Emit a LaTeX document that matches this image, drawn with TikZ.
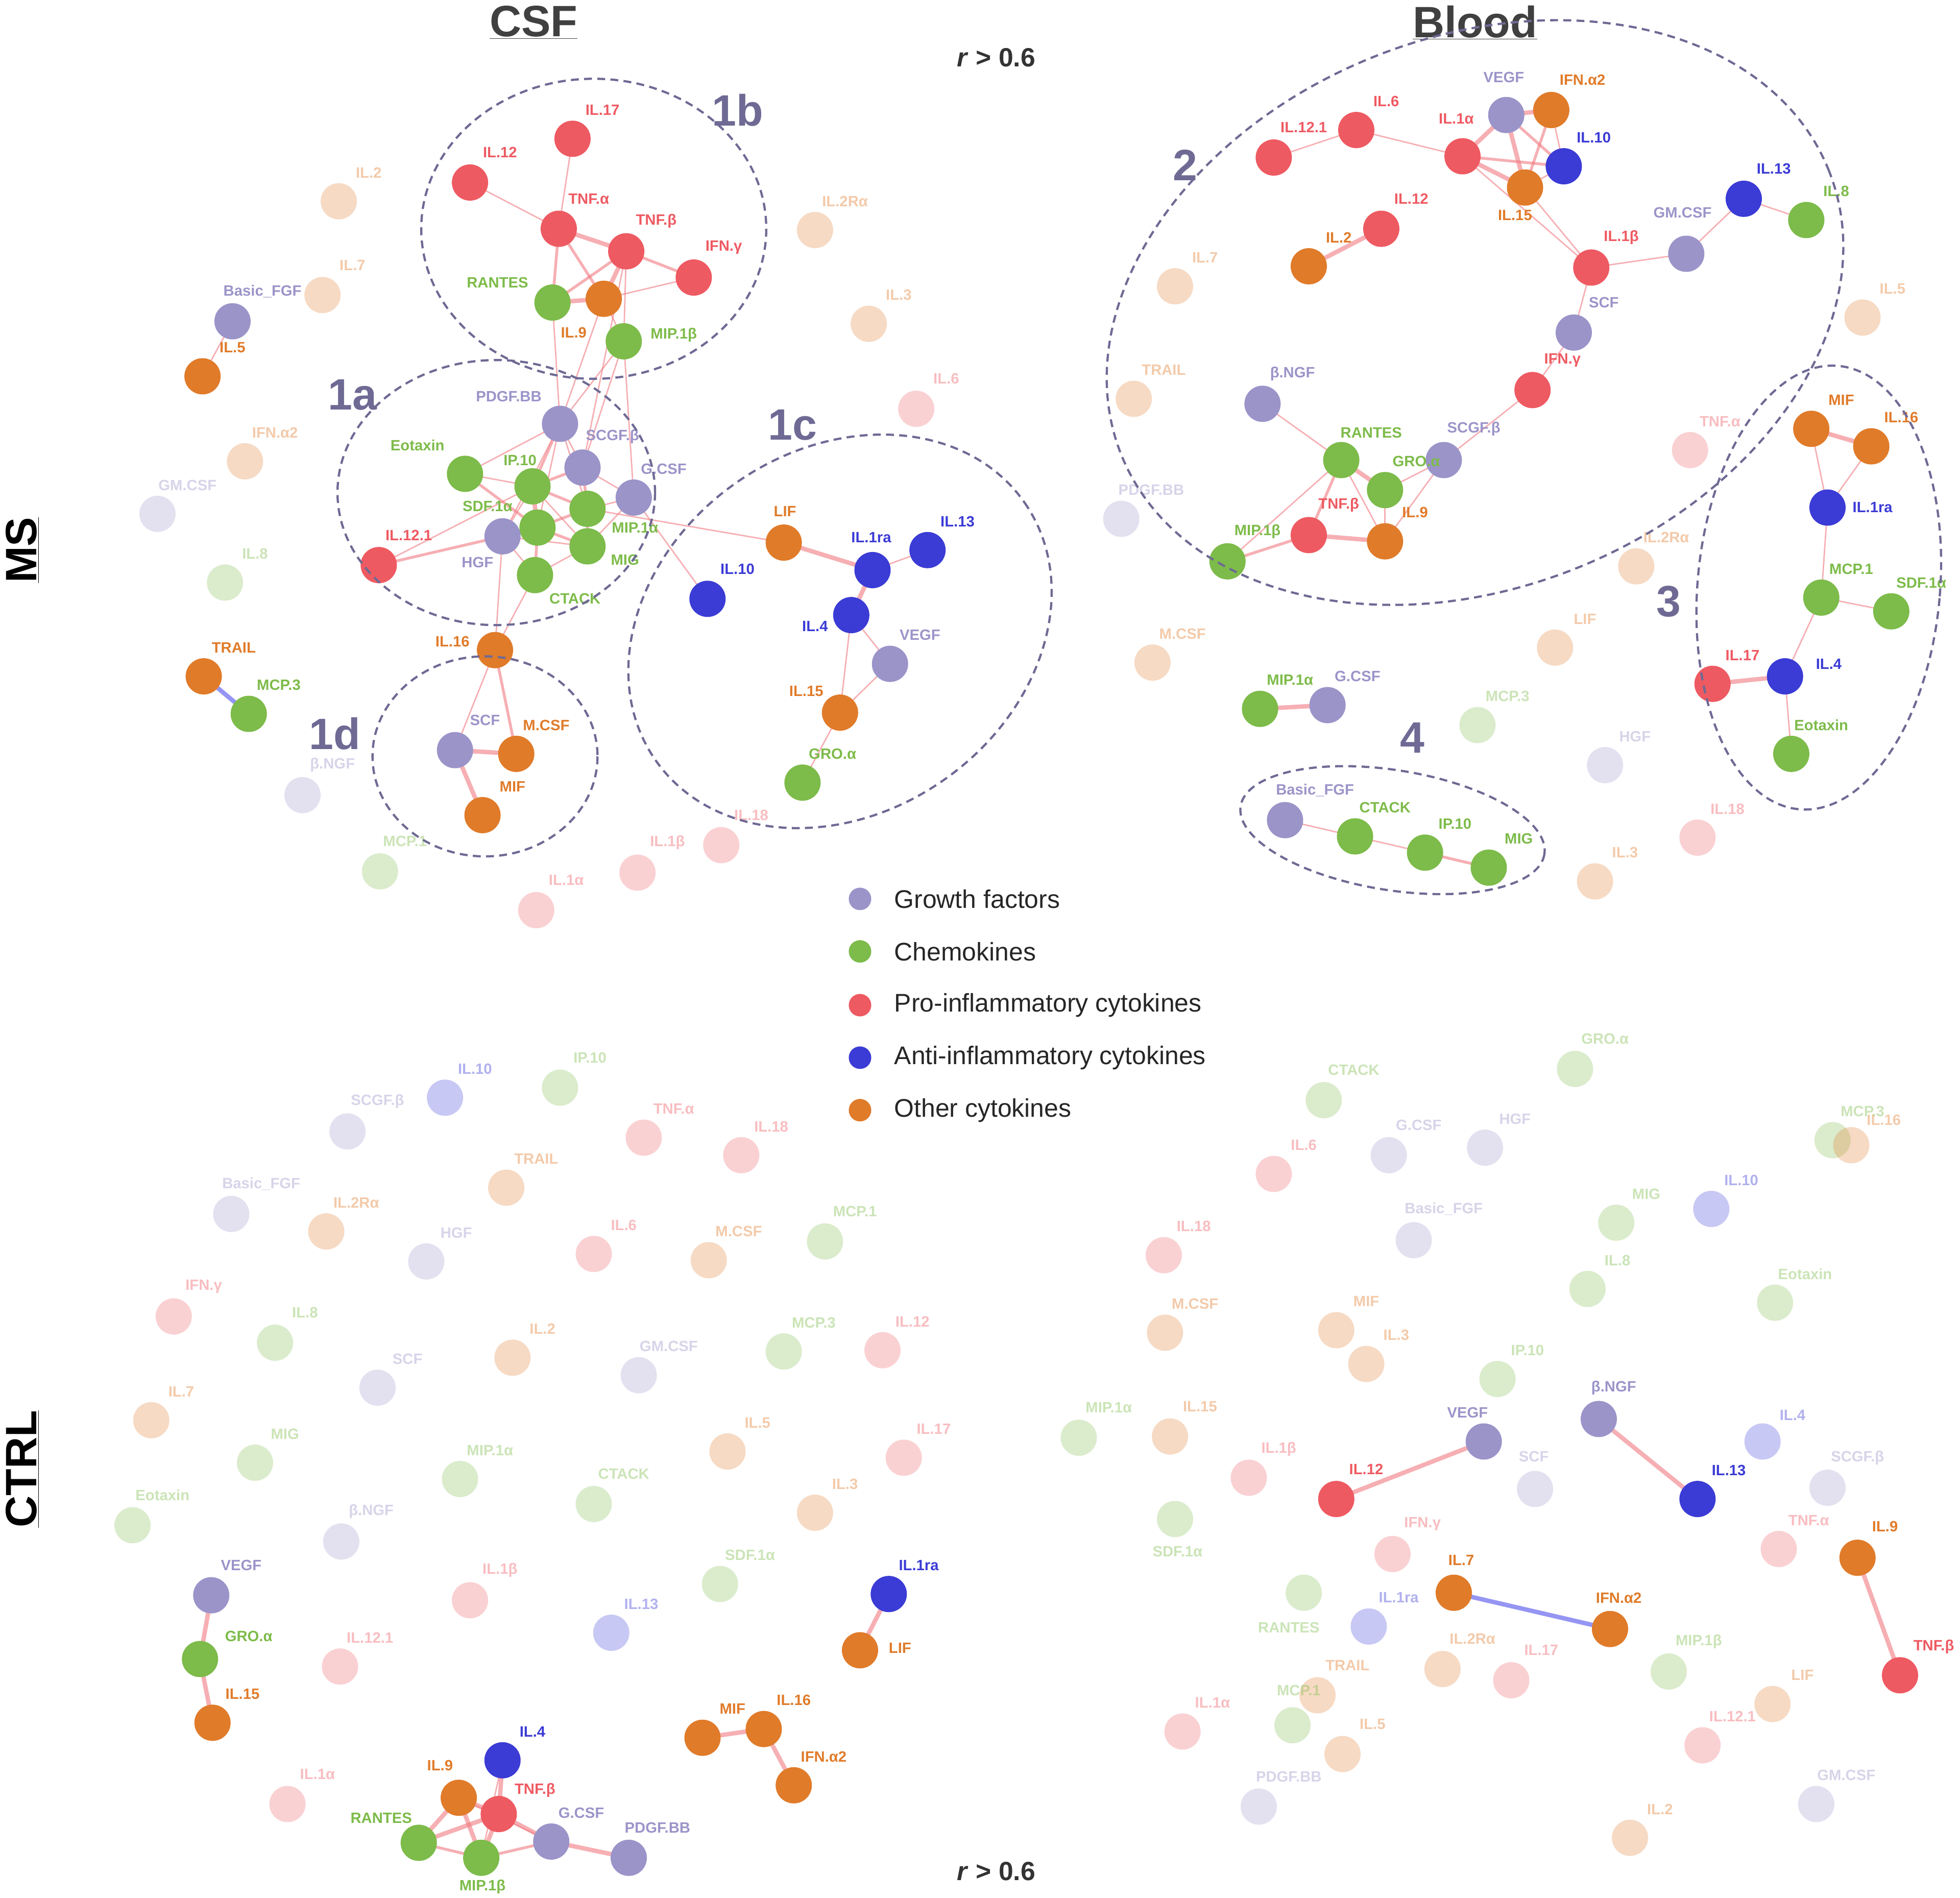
\documentclass[tikz,border=0pt]{standalone}
\usepackage{fontspec}
\setmainfont{Liberation Sans}
\usetikzlibrary{backgrounds}
\definecolor{cg}{HTML}{9B94C9}
\definecolor{cc}{HTML}{7DBB4A}
\definecolor{cp}{HTML}{EE5A62}
\definecolor{ca}{HTML}{3B3BD6}
\definecolor{co}{HTML}{E07B2A}
\definecolor{cl}{HTML}{6E6A94}
\definecolor{ep}{HTML}{F07A80}
\definecolor{en}{HTML}{7A7AF0}
\tikzset{
 dot/.style={circle,minimum size=1.45cm,inner sep=0pt},
 lab/.style={font=\fontsize{17}{19}\selectfont\bfseries,inner sep=0pt},
 e/.style={draw=ep,line width=1.6pt,opacity=0.6},
 em/.style={draw=ep,line width=3.2pt,opacity=0.6},
 et/.style={draw=ep,line width=5pt,opacity=0.6},
 en/.style={draw=en,line width=5pt,opacity=0.8},
 clu/.style={draw=cl,dashed,line width=2.5pt,dash pattern=on 9pt off 6pt},
 clab/.style={text=cl,font=\fontsize{50}{52}\selectfont\bfseries},
 ttl/.style={text=black!75,font=\fontsize{50}{52}\selectfont\bfseries}
}
\newcommand\nd[7]{\node[dot,fill=#4] (#1) at (#2,#3) {}; \node[lab,text=#4] at (#6,#7) {#5};}
\newcommand\fd[7]{\node[dot,fill=#4,opacity=0.28] (#1) at (#2,#3) {}; \node[lab,text=#4,opacity=0.4] at (#6,#7) {#5};}
\newcommand\ed[3][e]{\begin{pgfonlayer}{background}\draw[#1] (#2.center) -- (#3.center);\end{pgfonlayer}}
\begin{document}
\begin{tikzpicture}[x=0.05cm,y=-0.05cm]
\useasboundingbox (0,0) rectangle (1568,1518);
% titles
\node[ttl] (t1) at (427,18) {\underline{CSF}};
\node[ttl] (t2) at (1180,18) {\underline{Blood}};
\node[text=black!80,font=\fontsize{30}{32}\selectfont\bfseries] (r1) at (797,46) {\textit{r} > 0.6};
\node[text=black!80,font=\fontsize{30}{32}\selectfont\bfseries] (r2) at (797,1497) {\textit{r} > 0.6};
\node[ttl,text=black,rotate=90] (ms) at (18,440) {\underline{MS}};
\node[ttl,text=black,rotate=90] (ctrl) at (18,1175) {\underline{CTRL}};
% ===== MS CSF
\fd{aIL2}{271}{161}{co}{IL.2}{295}{138}
\fd{aIL7}{258}{236}{co}{IL.7}{282}{212}
\nd{aBF}{186}{257}{cg}{Basic\_FGF}{210}{233}
\nd{aIL5}{162}{301}{co}{IL.5}{186}{278}
\fd{aIFNa}{196}{369}{co}{IFN.α2}{220}{346}
\fd{aGM}{126}{411}{cg}{GM.CSF}{150}{388}
\fd{aIL8}{180}{466}{cc}{IL.8}{204}{443}
\nd{aTR}{163}{541}{co}{TRAIL}{187}{518}
\nd{aMCP3}{199}{571}{cc}{MCP.3}{223}{548}
\fd{aNGF}{242}{636}{cg}{β.NGF}{266}{612}
\fd{aMCP1}{304}{697}{cc}{MCP.1}{324}{673}
\fd{aIL1a}{429}{728}{cp}{IL.1α}{453}{704}
\fd{aIL1b}{510}{698}{cp}{IL.1β}{534}{674}
\fd{aIL18}{577}{676}{cp}{IL.18}{601}{652}
\fd{aIL6}{733}{327}{cp}{IL.6}{757}{303}
\fd{aIL3}{695}{259}{co}{IL.3}{719}{236}
\fd{aIL2R}{652}{184}{co}{IL.2Rα}{676}{161}
\nd{aIL17}{458}{111}{cp}{IL.17}{482}{88}
\nd{aIL12}{376}{146}{cp}{IL.12}{400}{122}
\nd{aTNFa}{447}{183}{cp}{TNF.α}{471}{159}
\nd{aTNFb}{501}{201}{cp}{TNF.β}{525}{177}
\nd{aIFNg}{555}{222}{cp}{IFN.γ}{579}{198}
\nd{aRAN}{442}{242}{cc}{RANTES}{398}{226}
\nd{aIL9}{483}{239}{co}{IL.9}{459}{266}
\nd{aMIP1b}{499}{273}{cc}{MIP.1β}{539}{268}
\nd{aPDGF}{448}{339}{cg}{PDGF.BB}{407}{317}
\nd{aEot}{372}{379}{cc}{Eotaxin}{334}{356}
\nd{aSCGF}{466}{374}{cg}{SCGF.β}{490}{349}
\nd{aIP10}{426}{389}{cc}{IP.10}{416}{368}
\nd{aGCSF}{507}{398}{cg}{G.CSF}{531}{375}
\nd{aSDF}{430}{422}{cc}{SDF.1α}{390}{405}
\nd{aMIP1a}{470}{407}{cc}{MIP.1α}{508}{422}
\nd{aMIG}{470}{437}{cc}{MIG}{500}{448}
\nd{aHGF}{402}{429}{cg}{HGF}{382}{450}
\nd{aCT}{428}{460}{cc}{CTACK}{460}{479}
\nd{aIL121}{303}{452}{cp}{IL.12.1}{327}{428}
\nd{aIL16}{396}{520}{co}{IL.16}{362}{513}
\nd{aSCF}{364}{600}{cg}{SCF}{388}{576}
\nd{aMCSF}{413}{603}{co}{M.CSF}{437}{580}
\nd{aMIF}{386}{652}{co}{MIF}{410}{629}
\nd{aLIF}{627}{434}{co}{LIF}{628}{409}
\nd{aIL1ra}{698}{456}{ca}{IL.1ra}{697}{430}
\nd{aIL13}{742}{440}{ca}{IL.13}{766}{417}
\nd{aIL10}{566}{479}{ca}{IL.10}{590}{455}
\nd{aIL4}{681}{492}{ca}{IL.4}{652}{501}
\nd{aVEGF}{712}{531}{cg}{VEGF}{736}{508}
\nd{aIL15}{672}{570}{co}{IL.15}{645}{553}
\nd{aGRO}{642}{626}{cc}{GRO.α}{666}{603}
\ed[en]{aTR}{aMCP3}
\ed{aBF}{aIL5}
\ed{aIL12}{aTNFa}\ed{aIL17}{aTNFa}\ed[et]{aTNFa}{aTNFb}\ed[em]{aTNFa}{aRAN}\ed[em]{aTNFa}{aIL9}
\ed[et]{aTNFb}{aIL9}\ed[em]{aTNFb}{aIFNg}\ed[em]{aTNFb}{aRAN}\ed[et]{aRAN}{aIL9}\ed{aIL9}{aMIP1b}
\ed{aTNFb}{aMIP1b}\ed{aIFNg}{aIL9}\ed{aMIP1b}{aPDGF}\ed{aIL9}{aPDGF}\ed{aTNFb}{aSCGF}\ed{aRAN}{aPDGF}
\ed{aPDGF}{aEot}\ed[em]{aPDGF}{aIP10}\ed{aPDGF}{aSCGF}\ed{aPDGF}{aSDF}\ed{aPDGF}{aMIP1a}\ed{aPDGF}{aHGF}
\ed{aEot}{aIP10}\ed[em]{aEot}{aSDF}\ed[et]{aIP10}{aSDF}\ed[em]{aIP10}{aSCGF}\ed[em]{aIP10}{aMIP1a}\ed{aIP10}{aHGF}
\ed[et]{aSDF}{aHGF}\ed[em]{aSDF}{aMIG}\ed[em]{aSDF}{aCT}\ed[em]{aSDF}{aMIP1a}\ed[em]{aSCGF}{aMIP1a}\ed{aSCGF}{aGCSF}
\ed{aMIP1a}{aGCSF}\ed[em]{aMIP1a}{aMIG}\ed{aMIG}{aGCSF}\ed[em]{aHGF}{aIL121}\ed{aIP10}{aIL121}\ed{aHGF}{aCT}
\ed{aCT}{aMIG}\ed{aHGF}{aMIG}\ed{aIP10}{aMIG}\ed{aMIP1a}{aLIF}\ed{aGCSF}{aIL10}\ed{aGCSF}{aMIP1b}\ed{aSCGF}{aMIP1b}
\ed{aHGF}{aIL16}\ed{aCT}{aIL16}\ed{aIL16}{aSCF}\ed[em]{aIL16}{aMCSF}\ed[et]{aSCF}{aMIF}\ed[et]{aSCF}{aMCSF}
\ed[et]{aLIF}{aIL1ra}\ed{aIL1ra}{aIL13}\ed[et]{aIL1ra}{aIL4}\ed{aIL4}{aVEGF}\ed{aIL4}{aIL15}\ed{aIL15}{aGRO}\ed{aVEGF}{aIL15}
\draw[clu] (475,183) ellipse[x radius=138,y radius=120];
\draw[clu] (397,394) ellipse[x radius=127,y radius=106];
\draw[clu,rotate around={35:(672,505)}] (672,505) ellipse[x radius=180,y radius=145];
\draw[clu] (388,605) ellipse[x radius=90,y radius=80];
\node[clab] (l1b) at (590,88) {1b};
\node[clab] (l1a) at (282,316) {1a};
\node[clab] (l1c) at (634,340) {1c};
\node[clab] (l1d) at (268,587) {1d};
% ===== MS Blood
\nd{bVEGF}{1205}{92}{cg}{VEGF}{1203}{62}
\nd{bIFNa}{1241}{88}{co}{IFN.α2}{1266}{64}
\nd{bIL6}{1085}{104}{cp}{IL.6}{1109}{81}
\nd{bIL121}{1019}{126}{cp}{IL.12.1}{1043}{102}
\nd{bIL1a}{1170}{125}{cp}{IL.1α}{1165}{95}
\nd{bIL10}{1251}{133}{ca}{IL.10}{1275}{110}
\nd{bIL15}{1220}{150}{co}{IL.15}{1212}{172}
\nd{bIL12}{1105}{183}{cp}{IL.12}{1129}{159}
\nd{bIL2}{1047}{213}{co}{IL.2}{1071}{190}
\nd{bIL13}{1395}{159}{ca}{IL.13}{1419}{135}
\nd{bIL8}{1445}{176}{cc}{IL.8}{1469}{153}
\nd{bGM}{1349}{203}{cg}{GM.CSF}{1346}{170}
\nd{bIL1b}{1273}{214}{cp}{IL.1β}{1297}{190}
\nd{bSCF}{1259}{266}{cg}{SCF}{1283}{242}
\nd{bIFNg}{1226}{312}{cp}{IFN.γ}{1250}{288}
\nd{bNGF}{1010}{323}{cg}{β.NGF}{1034}{299}
\nd{bRAN}{1073}{368}{cc}{RANTES}{1097}{346}
\nd{bSCGF}{1155}{368}{cg}{SCGF.β}{1179}{343}
\nd{bGRO}{1108}{392}{cc}{GRO.α}{1133}{369}
\nd{bTNFb}{1047}{428}{cp}{TNF.β}{1071}{404}
\nd{bIL9}{1108}{433}{co}{IL.9}{1132}{410}
\nd{bMIP1b}{982}{449}{cc}{MIP.1β}{1006}{425}
\fd{bIL7}{940}{229}{co}{IL.7}{964}{206}
\fd{bTR}{907}{319}{co}{TRAIL}{931}{296}
\fd{bPDGF}{897}{415}{cg}{PDGF.BB}{921}{392}
\fd{bMCSF}{922}{530}{co}{M.CSF}{946}{507}
\fd{bMCP3}{1182}{580}{cc}{MCP.3}{1206}{557}
\fd{bLIF}{1244}{518}{co}{LIF}{1268}{495}
\fd{bIL2R}{1309}{453}{co}{IL.2Rα}{1333}{430}
\fd{bTNFa}{1352}{360}{cp}{TNF.α}{1376}{337}
\fd{bIL5}{1490}{254}{co}{IL.5}{1514}{231}
\fd{bHGF}{1284}{612}{cg}{HGF}{1308}{589}
\fd{bIL18}{1358}{670}{cp}{IL.18}{1382}{647}
\fd{bIL3}{1276}{705}{co}{IL.3}{1300}{682}
\nd{bMIP1a}{1008}{567}{cc}{MIP.1α}{1032}{544}
\nd{bGCSF}{1062}{564}{cg}{G.CSF}{1086}{541}
\nd{bMIF}{1449}{343}{co}{MIF}{1473}{320}
\nd{bIL16}{1497}{357}{co}{IL.16}{1521}{334}
\nd{bIL1ra}{1462}{406}{ca}{IL.1ra}{1498}{406}
\nd{bMCP1}{1457}{478}{cc}{MCP.1}{1481}{455}
\nd{bSDF}{1513}{489}{cc}{SDF.1α}{1537}{466}
\nd{bIL17}{1370}{547}{cp}{IL.17}{1394}{524}
\nd{bIL4}{1428}{541}{ca}{IL.4}{1463}{531}
\nd{bEot}{1433}{603}{cc}{Eotaxin}{1457}{580}
\nd{bBF}{1028}{656}{cg}{Basic\_FGF}{1052}{632}
\nd{bCT}{1084}{669}{cc}{CTACK}{1108}{646}
\nd{bIP10}{1140}{682}{cc}{IP.10}{1164}{659}
\nd{bMIG}{1191}{694}{cc}{MIG}{1215}{671}
\ed{bIL121}{bIL6}\ed{bIL6}{bIL1a}\ed[et]{bIL1a}{bVEGF}\ed[em]{bIL1a}{bIL10}\ed[et]{bIL1a}{bIL15}\ed[et]{bVEGF}{bIFNa}
\ed[et]{bVEGF}{bIL15}\ed[em]{bIFNa}{bIL15}\ed{bIFNa}{bIL10}\ed{bIL10}{bIL15}\ed[em]{bVEGF}{bIL10}\ed[et]{bIL12}{bIL2}
\ed{bIL15}{bIL1b}\ed{bIL1a}{bIL1b}\ed{bIL1b}{bGM}\ed{bGM}{bIL13}\ed{bIL13}{bIL8}\ed{bIL1b}{bSCF}\ed{bSCF}{bIFNg}
\ed{bIFNg}{bSCGF}\ed{bNGF}{bRAN}\ed[et]{bRAN}{bGRO}\ed[em]{bRAN}{bTNFb}\ed{bRAN}{bIL9}\ed{bGRO}{bIL9}
\ed[et]{bTNFb}{bIL9}\ed[em]{bTNFb}{bMIP1b}\ed{bSCGF}{bGRO}\ed{bSCGF}{bIL9}\ed{bMIP1b}{bRAN}\ed[et]{bMIP1a}{bGCSF}
\ed[et]{bMIF}{bIL16}\ed{bMIF}{bIL1ra}\ed{bIL16}{bIL1ra}\ed{bIL1ra}{bMCP1}\ed{bMCP1}{bSDF}\ed{bMCP1}{bIL4}\ed[et]{bIL17}{bIL4}\ed{bIL4}{bEot}
\ed{bBF}{bCT}\ed{bCT}{bIP10}\ed[em]{bIP10}{bMIG}
\draw[clu,rotate around={22:(1180,250)}] (1180,250) ellipse[x radius=305,y radius=220];
\draw[clu,rotate around={-5:(1455,470)}] (1455,470) ellipse[x radius=97,y radius=178];
\draw[clu,rotate around={-9:(1114,664)}] (1114,664) ellipse[x radius=123,y radius=48];
\node[clab] (l2) at (948,132) {2};
\node[clab] (l3) at (1335,481) {3};
\node[clab] (l4) at (1130,590) {4};
% legend
\foreach \yy/\cc/\tt [count=\i] in {719/cg/Growth factors,761/cc/Chemokines,804/cp/Pro-inflammatory cytokines,846/ca/Anti-inflammatory cytokines,888/co/Other cytokines}{
 \node[circle,minimum size=0.9cm,inner sep=0pt,fill=\cc] (lg\i) at (688,\yy) {};
 \node[anchor=west,font=\fontsize{29}{31}\selectfont,text=black!85] (lt\i) at (713,\yy) {\tt};}
% ===== CTRL CSF
\fd{cIL10}{356}{878}{ca}{IL.10}{380}{855}
\fd{cIP10}{448}{870}{cc}{IP.10}{472}{846}
\fd{cSCGF}{278}{905}{cg}{SCGF.β}{302}{881}
\fd{cTNFa}{515}{910}{cp}{TNF.α}{539}{887}
\fd{cIL18}{593}{924}{cp}{IL.18}{617}{901}
\fd{cTR}{405}{950}{co}{TRAIL}{429}{927}
\fd{cBF}{185}{971}{cg}{Basic\_FGF}{209}{947}
\fd{cIL2R}{261}{985}{co}{IL.2Rα}{285}{962}
\fd{cHGF}{341}{1009}{cg}{HGF}{365}{986}
\fd{cIL6}{475}{1003}{cp}{IL.6}{499}{980}
\fd{cMCSF}{567}{1008}{co}{M.CSF}{591}{985}
\fd{cMCP1}{660}{993}{cc}{MCP.1}{684}{969}
\fd{cIFNg}{139}{1053}{cp}{IFN.γ}{163}{1029}
\fd{cIL8}{220}{1074}{cc}{IL.8}{244}{1050}
\fd{cIL2}{410}{1086}{co}{IL.2}{434}{1063}
\fd{cGM}{511}{1100}{cg}{GM.CSF}{535}{1077}
\fd{cMCP3}{627}{1081}{cc}{MCP.3}{651}{1058}
\fd{cIL12}{706}{1080}{cp}{IL.12}{730}{1057}
\fd{cIL7}{121}{1136}{co}{IL.7}{145}{1113}
\fd{cSCF}{302}{1110}{cg}{SCF}{326}{1087}
\fd{cMIG}{204}{1170}{cc}{MIG}{228}{1147}
\fd{cMIP1a}{368}{1183}{cc}{MIP.1α}{392}{1160}
\fd{cCT}{475}{1203}{cc}{CTACK}{499}{1179}
\fd{cIL5}{582}{1161}{co}{IL.5}{606}{1138}
\fd{cIL17}{723}{1166}{cp}{IL.17}{747}{1143}
\fd{cIL3}{652}{1210}{co}{IL.3}{676}{1187}
\fd{cEot}{106}{1220}{cc}{Eotaxin}{130}{1196}
\fd{cNGF}{273}{1233}{cg}{β.NGF}{297}{1209}
\fd{cSDF}{576}{1267}{cc}{SDF.1α}{600}{1244}
\fd{cIL1b}{376}{1280}{cp}{IL.1β}{400}{1256}
\fd{cIL13}{489}{1306}{ca}{IL.13}{513}{1283}
\fd{cIL121}{272}{1333}{cp}{IL.12.1}{296}{1310}
\fd{cIL1a}{230}{1443}{cp}{IL.1α}{254}{1419}
\nd{cVEGF}{169}{1276}{cg}{VEGF}{193}{1252}
\nd{cGRO}{160}{1327}{cc}{GRO.α}{199}{1309}
\nd{cIL15}{170}{1378}{co}{IL.15}{194}{1355}
\nd{cIL1ra}{711}{1275}{ca}{IL.1ra}{735}{1252}
\nd{cLIF}{688}{1320}{co}{LIF}{720}{1318}
\nd{cMIF}{562}{1390}{co}{MIF}{586}{1367}
\nd{cIL16}{611}{1383}{co}{IL.16}{635}{1360}
\nd{cIFNa}{635}{1428}{co}{IFN.α2}{659}{1405}
\nd{cIL4}{402}{1408}{ca}{IL.4}{426}{1385}
\nd{cIL9}{367}{1438}{co}{IL.9}{352}{1412}
\nd{cTNFb}{399}{1451}{cp}{TNF.β}{428}{1432}
\nd{cRAN}{335}{1474}{cc}{RANTES}{305}{1454}
\nd{cGCSF}{441}{1473}{cg}{G.CSF}{465}{1450}
\nd{cMIP1b}{385}{1486}{cc}{MIP.1β}{386}{1509}
\nd{cPDGF}{503}{1486}{cg}{PDGF.BB}{526}{1462}
\ed[et]{cVEGF}{cGRO}\ed[et]{cGRO}{cIL15}\ed[et]{cIL1ra}{cLIF}\ed[et]{cMIF}{cIL16}\ed[et]{cIL16}{cIFNa}
\ed[et]{cIL4}{cTNFb}\ed{cIL4}{cMIP1b}\ed[et]{cIL9}{cTNFb}\ed[et]{cIL9}{cRAN}\ed[et]{cIL9}{cMIP1b}\ed[et]{cTNFb}{cRAN}
\ed[et]{cTNFb}{cMIP1b}\ed[et]{cTNFb}{cGCSF}\ed[em]{cRAN}{cMIP1b}\ed[em]{cGCSF}{cMIP1b}\ed[et]{cGCSF}{cPDGF}\ed{cIL9}{cGCSF}
% ===== CTRL Blood
\fd{dGRO}{1260}{855}{cc}{GRO.α}{1284}{831}
\fd{dCT}{1059}{880}{cc}{CTACK}{1083}{856}
\fd{dMCP3}{1466}{912}{cc}{MCP.3}{1490}{889}
\fd{dIL16}{1481}{916}{co}{IL.16}{1507}{896}
\fd{dGCSF}{1111}{924}{cg}{G.CSF}{1135}{900}
\fd{dHGF}{1188}{918}{cg}{HGF}{1212}{895}
\fd{dIL6}{1019}{939}{cp}{IL.6}{1043}{916}
\fd{dIL10}{1369}{967}{ca}{IL.10}{1393}{944}
\fd{dBF}{1131}{992}{cg}{Basic\_FGF}{1155}{967}
\fd{dMIG}{1293}{978}{cc}{MIG}{1317}{955}
\fd{dIL18}{931}{1004}{cp}{IL.18}{955}{981}
\fd{dIL8}{1270}{1031}{cc}{IL.8}{1294}{1008}
\fd{dEot}{1420}{1042}{cc}{Eotaxin}{1444}{1019}
\fd{dMIF}{1069}{1064}{co}{MIF}{1093}{1041}
\fd{dMCSF}{932}{1066}{co}{M.CSF}{956}{1043}
\fd{dIL3}{1093}{1091}{co}{IL.3}{1117}{1068}
\fd{dIP10}{1198}{1103}{cc}{IP.10}{1222}{1080}
\fd{dMIP1a}{863}{1150}{cc}{MIP.1α}{887}{1126}
\fd{dIL15}{936}{1149}{co}{IL.15}{960}{1125}
\fd{dIL1b}{999}{1182}{cp}{IL.1β}{1023}{1159}
\fd{dSCF}{1228}{1191}{cg}{SCF}{1227}{1165}
\fd{dIL4}{1410}{1153}{ca}{IL.4}{1434}{1132}
\fd{dSCGF}{1462}{1190}{cg}{SCGF.β}{1486}{1166}
\fd{dSDF}{940}{1215}{cc}{SDF.1α}{942}{1241}
\fd{dIFNg}{1114}{1243}{cp}{IFN.γ}{1138}{1219}
\fd{dTNFa}{1423}{1239}{cp}{TNF.α}{1447}{1216}
\fd{dRAN}{1043}{1274}{cc}{RANTES}{1031}{1302}
\fd{dIL1ra}{1095}{1301}{ca}{IL.1ra}{1119}{1278}
\fd{dIL2R}{1154}{1335}{co}{IL.2Rα}{1178}{1311}
\fd{dIL17}{1209}{1344}{cp}{IL.17}{1233}{1320}
\fd{dTR}{1054}{1356}{co}{TRAIL}{1078}{1332}
\fd{dMIP1b}{1335}{1337}{cc}{MIP.1β}{1359}{1313}
\fd{dLIF}{1418}{1363}{co}{LIF}{1442}{1340}
\fd{dIL1a}{946}{1385}{cp}{IL.1α}{970}{1362}
\fd{dMCP1}{1034}{1380}{cc}{MCP.1}{1039}{1352}
\fd{dIL5}{1074}{1403}{co}{IL.5}{1098}{1379}
\fd{dIL121}{1362}{1396}{cp}{IL.12.1}{1386}{1373}
\fd{dPDGF}{1007}{1445}{cg}{PDGF.BB}{1031}{1421}
\fd{dGM}{1453}{1443}{cg}{GM.CSF}{1477}{1420}
\fd{dIL2}{1304}{1470}{co}{IL.2}{1328}{1447}
\nd{dVEGF}{1187}{1153}{cg}{VEGF}{1174}{1130}
\nd{dNGF}{1279}{1135}{cg}{β.NGF}{1291}{1110}
\nd{dIL12}{1069}{1199}{cp}{IL.12}{1093}{1175}
\nd{dIL13}{1358}{1199}{ca}{IL.13}{1383}{1176}
\nd{dIL7}{1163}{1274}{co}{IL.7}{1169}{1248}
\nd{dIFNa}{1288}{1303}{co}{IFN.α2}{1295}{1278}
\nd{dIL9}{1486}{1246}{co}{IL.9}{1508}{1221}
\nd{dTNFb}{1520}{1340}{cp}{TNF.β}{1547}{1317}
\ed[et]{dIL12}{dVEGF}\ed[et]{dNGF}{dIL13}\ed[en]{dIL7}{dIFNa}\ed[et]{dIL9}{dTNFb}
\end{tikzpicture}
\end{document}
